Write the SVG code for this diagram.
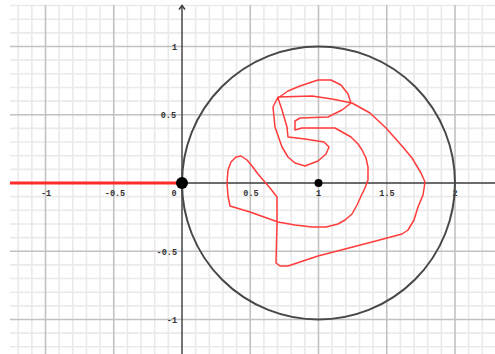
<svg xmlns="http://www.w3.org/2000/svg" width="495" height="354" viewBox="0 0 495 354">
<style>
.minor{stroke:#eaeaea;stroke-width:1.6;fill:none}
.major{stroke:#c2c2c2;stroke-width:1.6;fill:none}
.axis{stroke:#3a3a3a;stroke-width:1.4;fill:none}
.lbl{font-family:"Liberation Mono","DejaVu Sans Mono",monospace;font-size:8.5px;font-weight:bold;fill:#333}
.xl{text-anchor:middle}
.yl{text-anchor:end}
</style>
<rect x="0" y="0" width="495" height="354" fill="#ffffff"/>
<g id="grid">
<path class="minor" d="M18.2 5V354M31.85 5V354M59.15 5V354M72.8 5V354M86.45 5V354M100.1 5V354M127.4 5V354M141.05 5V354M154.7 5V354M168.35 5V354M195.65 5V354M209.3 5V354M222.95 5V354M236.6 5V354M263.9 5V354M277.55 5V354M291.2 5V354M304.85 5V354M332.15 5V354M345.8 5V354M359.45 5V354M373.1 5V354M400.4 5V354M414.05 5V354M427.7 5V354M441.35 5V354M468.65 5V354M482.3 5V354"/>
<path class="minor" d="M10 5.55H495M10 19.2H495M10 32.85H495M10 60.15H495M10 73.8H495M10 87.45H495M10 101.1H495M10 128.4H495M10 142.05H495M10 155.7H495M10 169.35H495M10 196.65H495M10 210.3H495M10 223.95H495M10 237.6H495M10 264.9H495M10 278.55H495M10 292.2H495M10 305.85H495M10 333.15H495M10 346.8H495"/>
<path class="major" d="M45.5 5V354M113.75 5V354M250.25 5V354M318.5 5V354M386.75 5V354M455 5V354"/>
<path class="major" d="M10 46.5H495M10 114.75H495M10 251.25H495M10 319.5H495"/>
</g>
<g id="axes">
<path class="axis" d="M10 183H495"/>
<path class="axis" d="M182 5.5V354"/>
<path class="axis" d="M179 9.5L182 5.5L185 9.5"/>
</g>
<g id="labels">
<text class="lbl xl" x="46" y="196">-1</text>
<text class="lbl xl" x="115" y="196">-0.5</text>
<text class="lbl xl" x="174" y="196">0</text>
<text class="lbl xl" x="251" y="196">0.5</text>
<text class="lbl xl" x="318.5" y="196">1</text>
<text class="lbl xl" x="387" y="196">1.5</text>
<text class="lbl xl" x="455" y="196">2</text>
<text class="lbl yl" x="177" y="49.5">1</text>
<text class="lbl yl" x="176" y="118">0.5</text>
<text class="lbl yl" x="177" y="254.5">-0.5</text>
<text class="lbl yl" x="177" y="323">-1</text>
</g>
<g id="circle">
<circle cx="318.5" cy="183" r="136.5" fill="none" stroke="#484848" stroke-width="2"/>
</g>
<g id="connectors">
<path d="M10 183H182" stroke="#ff2a2a" stroke-width="3" fill="none"/>
<path d="M351 103 L342 110 L328 117 L300 118 L295 121 L295 130 L302 128 L335 128 L351 137 L358 144 L362 150 L366 158 L368 167 L368 180 L365 188 L362 194 L357 205 L352 214 L345 220 L338 224 L326 227 L312 227 L295 225 L278 222 L250 212 L230 206 L228 196 L227 183 L228 170 L231 162 L236 157 L241 156 L247 160 L252 166 L258 174 L270 188 L277 197 L277 224 L276 263 L280 266 L288 266 L318 256 L372 242 L402 234 L408 230 L414 220 L418 207 L423 195 L425 182 L421 173 L412 158 L402 146 L386 128 L370 113 L352 103 L332 99 L312 96 L278 97 L273 107 L275 127 L282 147 L288 157 L295 163 L305 166 L318 161 L326 154 L329 147 L324 142 L305 139 L288 137 L287 127 L282 110 L278 98 L288 91 L300 86 L318 80 L331 80 L341 85 L348 94 L351 103 Z" stroke="#ff3b3b" stroke-width="1.5" fill="none" stroke-linejoin="round"/>
</g>
<g id="points">
<circle cx="182" cy="183" r="6" fill="#000"/>
<circle cx="318.5" cy="183" r="4" fill="#000"/>
</g>
</svg>
